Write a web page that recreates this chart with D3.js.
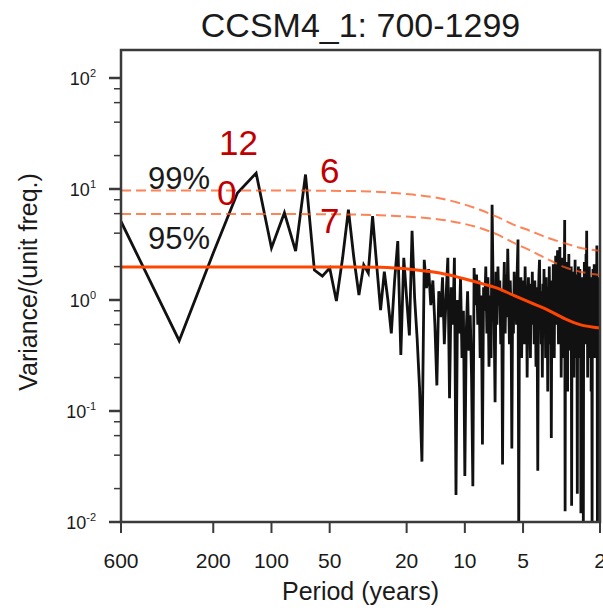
<!DOCTYPE html>
<html lang="en">
  <head>
    <meta charset="utf-8">
    <script src="https://d3js.org/d3.v7.min.js"></script>
    <style>
      body { margin: 0; background: #fff; }
      text { font-family: "Liberation Sans", Arial, sans-serif; fill: #1a1a1a; }
    </style>
  </head>
  <body>
    <svg width="603" height="610"></svg>
    <script>
      // length of the record in years, spectral estimates at periods 600/k
      var recordLength = 600;

      // spectrum (variance per unit frequency), k = 1 .. 300
      var variance = [
        5.1, 0.43, 2.65, 9.2, 13.9, 2.94, 6.1, 2.76, 13.5, 1.86,
        1.64, 1.94, 0.98, 2.4, 6.5, 2.4, 1.11, 2.07, 1.75, 5.7,
        2.07, 0.81, 1.8, 1.0, 0.5, 1.5, 3.4, 0.32, 2.4, 1.04,
        0.48, 4.2, 1.04, 0.45, 0.16, 0.035, 2.3, 1.28, 1.9, 0.9,
        1.5, 0.6, 0.17, 1.2, 0.7, 1.6, 0.4, 1.1, 2.4, 0.13,
        1.3, 0.6, 2.4, 0.0175, 1.0, 0.5, 1.6, 0.3, 0.8, 0.026,
        0.5, 1.2, 0.35, 0.73, 0.2, 0.021, 1.94, 0.9, 1.7, 0.6,
        1.5, 0.3, 1.1, 0.05, 1.3, 0.8, 2.0, 0.5, 1.6, 0.25,
        1.1, 0.3, 7.2, 1.4, 0.7, 0.12, 1.8, 0.6, 2.0, 0.9,
        1.5, 0.4, 1.2, 0.033, 1.0, 2.2, 0.5, 1.7, 0.7, 2.9,
        1.2, 0.4, 1.5, 0.8, 0.046, 1.1, 0.5, 1.8, 0.9, 1.4,
        0.6, 1.9, 3.5, 0.008, 1.2, 0.5, 1.6, 0.3, 1.1, 0.7,
        1.5, 0.4, 2.0, 0.8, 1.3, 0.2, 0.9, 1.6, 0.5, 1.1,
        0.3, 1.4, 0.7, 1.8, 0.6, 1.2, 0.4, 1.5, 0.9, 0.25,
        1.3, 0.5, 0.029, 1.0, 1.7, 2.3, 0.8, 1.2, 0.4, 1.0,
        0.2, 1.4, 0.6, 1.9, 0.7, 1.1, 0.3, 1.6, 0.5, 0.9,
        0.15, 1.3, 0.6, 2.0, 0.8, 0.4, 1.2, 0.057, 1.0, 1.5,
        0.5, 2.1, 0.9, 0.3, 1.4, 0.7, 2.5, 1.1, 0.6, 1.8,
        2.8, 0.9, 0.4, 1.6, 0.8, 3.0, 0.5, 1.3, 0.2, 1.1,
        0.6, 2.4, 0.9, 1.7, 0.3, 1.2, 5.25, 0.0125, 1.5, 0.7,
        2.2, 0.4, 1.4, 0.15, 1.9, 0.8, 2.6, 0.5, 1.2, 0.35,
        1.6, 0.7, 2.0, 0.014, 1.3, 0.6, 1.8, 0.4, 1.1, 0.2,
        1.5, 0.8, 2.3, 0.5, 1.2, 0.3, 1.7, 0.9, 0.018, 1.4,
        0.6, 2.0, 0.4, 1.1, 0.7, 1.9, 0.3, 1.3, 0.012, 1.0,
        0.5, 1.6, 0.8, 0.25, 1.4, 0.007, 1.2, 0.6, 2.2, 0.9,
        0.4, 1.5, 0.7, 2.6, 1.1, 4.2, 0.5, 1.3, 0.2, 1.8,
        0.7, 1.2, 0.4, 2.0, 0.9, 0.3, 1.6, 0.6, 1.1, 0.15,
        1.4, 0.5, 0.009, 1.3, 0.7, 1.9, 0.4, 1.2, 0.8, 2.1,
        0.5, 1.5, 0.3, 1.0, 0.6, 1.7, 0.4, 1.2, 3.1, 0.8,
        0.006, 1.1, 0.5, 1.6, 0.3, 1.3, 0.7, 0.2, 1.0, 0.5
      ];

      // red noise background and its confidence levels, read at these periods
      var redPeriods = [600, 100, 40, 27.5, 18.6, 12.4, 8.36, 6.8, 5.65, 4.6, 3.76, 3.05, 2.54, 2];
      var redNoise   = [1.98, 1.98, 1.98, 1.97, 1.88, 1.7, 1.42, 1.28, 1.11, 0.95, 0.82, 0.68, 0.6, 0.56];
      var conf95     = [5.95, 5.95, 5.9, 5.8, 5.6, 5.2, 4.45, 3.9, 3.3, 2.8, 2.35, 1.98, 1.8, 1.68];
      var conf99     = [9.7, 9.7, 9.6, 9.4, 8.9, 8.0, 6.5, 5.6, 4.8, 4.2, 3.65, 3.25, 2.96, 2.78];

      // axis ticks
      var xTicks = [600, 200, 100, 50, 20, 10, 5, 2];
      var yTicks = [0.01, 0.1, 1, 10, 100];
      var yExponents = ["-2", "-1", "0", "1", "2"];

      var periods = variance.map(function (v, i) { return recordLength / (i + 1); });

      var svg = d3.select("svg");
      var plotLeft = 121, plotRight = 600, plotTop = 50, plotBottom = 522;

      var xScale = d3.scaleLog().domain([600, 2]).range([plotLeft, plotRight]);
      var yScale = d3.scaleLog().domain([0.01, 100]).range([plotBottom, 78]);

      // clip for the plot area
      svg.append("clipPath").attr("id", "plotclip")
        .append("rect")
        .attr("x", plotLeft).attr("y", plotTop)
        .attr("width", plotRight - plotLeft).attr("height", plotBottom - plotTop);

      var line = d3.line()
        .x(function (d) { return xScale(d[0]); })
        .y(function (d) { return yScale(d[1]); });

      var smooth = d3.line()
        .x(function (d) { return xScale(d[0]); })
        .y(function (d) { return yScale(d[1]); })
        .curve(d3.curveMonotoneX);

      var plot = svg.append("g").attr("clip-path", "url(#plotclip)");

      // spectrum
      plot.append("path")
        .datum(d3.zip(periods, variance))
        .attr("d", line)
        .style("fill", "none")
        .style("stroke", "#111")
        .style("stroke-width", 2.8)
        .style("stroke-linejoin", "miter");

      // confidence levels (dashed)
      [conf95, conf99].forEach(function (c) {
        plot.append("path")
          .datum(d3.zip(redPeriods, c))
          .attr("d", smooth)
          .style("fill", "none")
          .style("stroke", "#ff5a1f")
          .style("stroke-opacity", 0.75)
          .style("stroke-width", 2)
          .style("stroke-dasharray", "10,5");
      });

      // red noise spectrum
      plot.append("path")
        .datum(d3.zip(redPeriods, redNoise))
        .attr("d", smooth)
        .style("fill", "none")
        .style("stroke", "#ff4500")
        .style("stroke-width", 3);

      // frame
      svg.append("rect")
        .attr("x", plotLeft).attr("y", plotTop)
        .attr("width", plotRight - plotLeft).attr("height", plotBottom - plotTop)
        .style("fill", "none")
        .style("stroke", "#3a3a3a")
        .style("stroke-width", 2.5);

      // y ticks: majors at decades, minors at 2,4,6,8
      var ax = svg.append("g").style("stroke", "#3a3a3a");
      yTicks.forEach(function (t) {
        ax.append("line")
          .attr("x1", plotLeft - 12).attr("x2", plotLeft)
          .attr("y1", yScale(t)).attr("y2", yScale(t))
          .style("stroke-width", 2.5);
        if (t < 100) {
          [2, 4, 6, 8].forEach(function (m) {
            ax.append("line")
              .attr("x1", plotLeft - 7).attr("x2", plotLeft)
              .attr("y1", yScale(t * m)).attr("y2", yScale(t * m))
              .style("stroke-width", 1.5);
          });
        }
      });

      // x ticks
      xTicks.forEach(function (t) {
        ax.append("line")
          .attr("x1", xScale(t)).attr("x2", xScale(t))
          .attr("y1", plotBottom).attr("y2", plotBottom + 11)
          .style("stroke-width", 2);
      });

      // y tick labels, 10 with exponent
      yTicks.forEach(function (t, i) {
        var lab = svg.append("text")
          .attr("x", 96)
          .attr("y", yScale(t) + 7)
          .attr("text-anchor", "end")
          .style("font-size", "18px");
        lab.append("tspan").text("10");
        lab.append("tspan")
          .attr("dy", -8)
          .style("font-size", "11px")
          .text(yExponents[i]);
      });

      // x tick labels
      xTicks.forEach(function (t) {
        svg.append("text")
          .attr("x", xScale(t))
          .attr("y", 568)
          .attr("text-anchor", "middle")
          .style("font-size", "21px")
          .text(t);
      });

      // titles
      svg.append("text")
        .attr("x", (plotLeft + plotRight) / 2)
        .attr("y", 37)
        .attr("text-anchor", "middle")
        .style("font-size", "34px")
        .text("CCSM4_1: 700-1299");

      svg.append("text")
        .attr("x", (plotLeft + plotRight) / 2)
        .attr("y", 600)
        .attr("text-anchor", "middle")
        .style("font-size", "25px")
        .text("Period (years)");

      svg.append("text")
        .attr("text-anchor", "middle")
        .attr("transform", "translate(37,282)rotate(-90)")
        .style("font-size", "25px")
        .text("Variance/(unit freq.)");

      // annotations
      var notes = svg.append("g").style("font-family", "'Noto Sans', sans-serif");
      notes.append("text").attr("x", 148).attr("y", 189).style("font-size", "31px").text("99%");
      notes.append("text").attr("x", 148).attr("y", 249).style("font-size", "31px").text("95%");
      notes.append("text").attr("x", 219).attr("y", 155).style("font-size", "35px").style("fill", "#c00000").text("12");
      notes.append("text").attr("x", 217).attr("y", 205).style("font-size", "35px").style("fill", "#c00000").text("0");
      notes.append("text").attr("x", 320).attr("y", 183).style("font-size", "35px").style("fill", "#c00000").text("6");
      notes.append("text").attr("x", 320).attr("y", 233).style("font-size", "35px").style("fill", "#c00000").text("7");
    </script>
  </body>
</html>
